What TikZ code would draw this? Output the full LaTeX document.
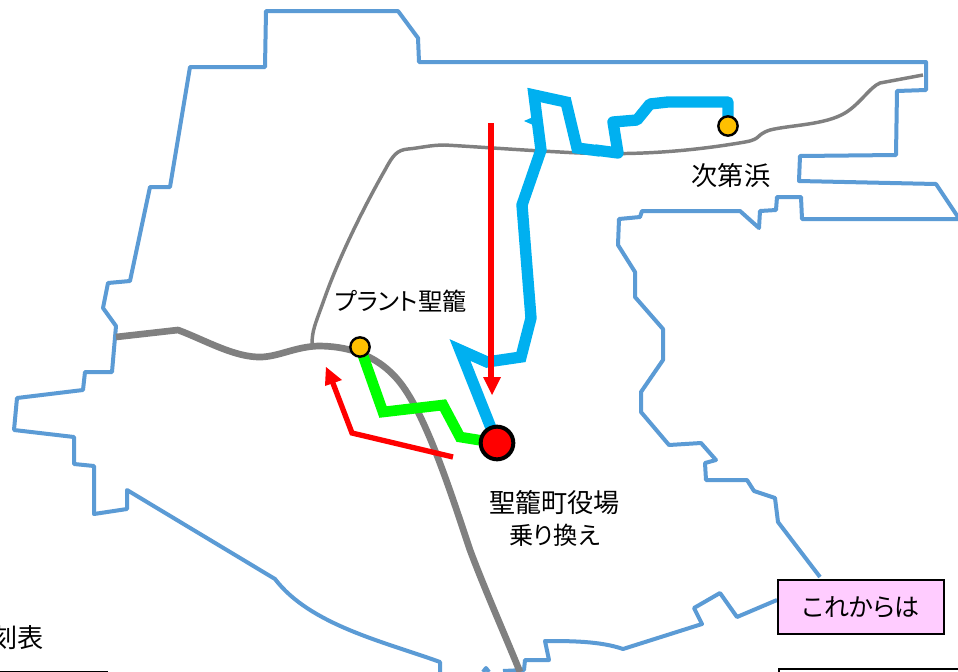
\documentclass[tikz,border=0pt]{standalone}
\usepackage{fontspec}
\setmainfont[RawFeature=+palt]{Noto Sans CJK JP}
\usetikzlibrary{backgrounds}
\definecolor{bnd}{HTML}{5B9BD5}
\definecolor{cy}{HTML}{00B0F0}
\definecolor{gr}{HTML}{00FF00}
\definecolor{gy}{HTML}{808080}
\definecolor{org}{HTML}{FFC000}
\definecolor{pinkbox}{HTML}{FFCCFF}
\tikzset{x=0.75pt,y=-0.75pt,
 boundary/.style={draw=bnd,line width=3pt,line join=round},
 mainroad/.style={draw=gy,line width=5pt,line join=round},
 minorroad/.style={draw=gy,line width=2.6pt,line join=round},
 cyanroute/.style={draw=cy,line width=8.5pt,line join=miter},
 greenroute/.style={draw=gr,line width=8pt,line join=miter},
 redarrow/.style={draw=red,line join=miter},
 stopdot/.style={circle,draw=black,fill=org,line width=1.8pt,minimum size=14.5pt,inner sep=0pt},
 hubdot/.style={circle,draw=black,fill=red,line width=3pt,minimum size=24.5pt,inner sep=0pt},
 lbl/.style={font=\fontsize{19.6pt}{24pt}\selectfont,align=center,text=black,inner sep=0pt},
}
\begin{document}
\begin{tikzpicture}
\useasboundingbox (0,0) rectangle (958,672);
\node[stopdot] (plant) at (360,347) {};
\node[stopdot] (beach) at (728,126) {};
\node[hubdot] (hub) at (497,443) {};
\node[lbl,font=\fontsize{18.2pt}{24pt}\selectfont] (lplant) at (400.5,301) {プラント聖籠};
\node[lbl] (lbeach) at (731,176) {次第浜};
\node[lbl] (lhub) at (554.5,518) {聖籠町役場\\{\fontsize{18.2pt}{24pt}\selectfont 乗り換え}};
\node[lbl,anchor=east] (ltable) at (44,638) {刻表};
\node[draw=black,fill=pinkbox,line width=1.5pt,minimum width=124.5pt,minimum height=40.5pt,inner sep=0pt,font=\fontsize{18.8pt}{21pt}\selectfont] (box) at (861,607) {これからは};
\begin{scope}[on background layer]
\fill[white] (0,0) rectangle (958,672);
\draw[boundary] (440,672) -- (440,662) .. controls (385,642) and (310,625) .. (275,579) -- (127,490) -- (127,509) -- (94,514) -- (94,466) -- (74,464) -- (74,437) -- (14,430) -- (17,398) -- (83,390) -- (85,372) -- (112,372) -- (116,326) -- (103,308) -- (108,283) -- (130,281) -- (150,187) -- (170,187) -- (190,67) -- (265,67) -- (266,11) -- (398,11) -- (418,38) -- (419,62) -- (926,62) -- (926,90) -- (897,91) -- (896,155) -- (800,156) -- (799,181) -- (936,184) -- (958,217);
\draw[boundary] (958,219) -- (802,219) -- (801,197) -- (777,197) -- (776,210) -- (760,211) -- (759,228) -- (740,211) -- (642,211) -- (640,217) -- (619,219) -- (618,245) -- (635,272) -- (635,297) -- (663,329) -- (663,360) -- (641,392) -- (641,412) -- (669,445) -- (701,443) -- (716,460) -- (705,463) -- (706,480) -- (747,480) -- (754,491) -- (775,498) -- (778,522) -- (820,577);
\draw[boundary] (box.west |- 0,600) -- (737,617) -- (720,593) -- (694,608) -- (702,624) -- (623,649) .. controls (600,641) and (570,641) .. (545,641) -- (549,660) -- (525,660) -- (524,670) -- (503,671);
\draw[boundary] (483,672) -- (486,668) -- (489,672);
\draw[mainroad] (116,337) -- (178,330) .. controls (205,340) and (235,358) .. (262,357) .. controls (280,356) and (295,347) .. (318,346) .. controls (345,346) and (375,353) .. (398,380) .. controls (425,412) and (450,490) .. (470,550) .. controls (485,590) and (505,635) .. (520,672);
\draw[minorroad] (312,345) .. controls (312,330) and (315,325) .. (325,297) .. controls (340,255) and (365,205) .. (385,170) .. controls (393,155) and (397,150) .. (408,149) .. controls (420,148) and (430,145) .. (445,145) .. controls (480,147) and (520,150) .. (560,152) .. controls (610,155) and (670,155) .. (745,142) .. controls (762,139) and (755,135) .. (770,130) .. controls (790,125) and (825,125) .. (845,113) .. controls (860,104) and (870,87) .. (880,83) -- (923,75);
\draw[cyanroute,line join=round] (beach.center) -- (728,102) -- (668,102) -- (650,104) -- (637,120) -- (613,122) -- (618,153) -- (595,150);
\draw[cyanroute] (600,151) -- (577,148) -- (566,102) -- (534,95) -- (541,150) -- (522,205) -- (531,318) -- (521,357) -- (487,362) -- (460,350) -- (hub.center);
\fill[cy] (524,121) -- (540,114) -- (540,128) -- cycle;
\draw[greenroute] (plant.center) -- (383,412) -- (443,405) -- (460,437) -- (hub.center);
\end{scope}
\draw[redarrow,line width=4pt] (491,123) -- (491,380);
\fill[red] (483,377) -- (501,377) -- (492,395) -- cycle;
\draw[redarrow,line width=4pt] (453,457) -- (352,433) -- (331,378);
\fill[red] (326,367) -- (342,380) -- (325,386) -- cycle;
\draw[black,line width=1pt] (0,671.5) -- (108,671.5);
\draw[black,line width=1.6pt,fill=white] (779,669) rectangle (980,690);
\end{tikzpicture}
\end{document}
